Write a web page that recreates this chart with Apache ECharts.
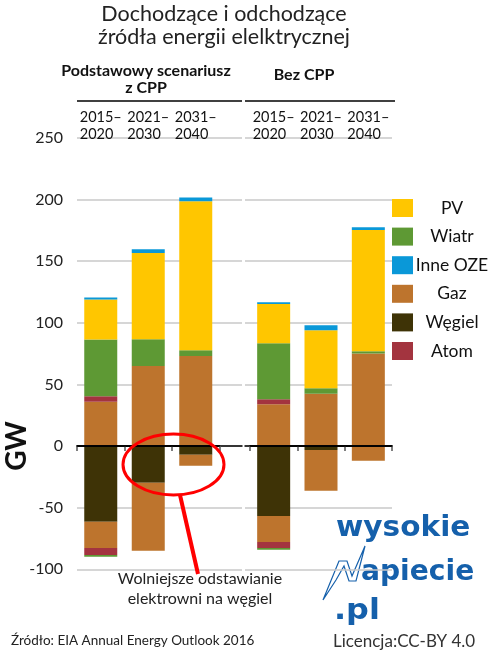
<!DOCTYPE html>
<html>
<head>
<meta charset="utf-8">
<script src="https://cdn.jsdelivr.net/npm/echarts@6/dist/echarts.min.js"></script>
<style>
html, body { margin: 0; padding: 0; background: #fff; }
#chart { width: 500px; height: 655px; }
</style>
</head>
<body>
<div id="chart"></div>
<script>
// okresy (kategorie)
var periods = ['2015–\n2020', '2021–\n2030', '2031–\n2040'];
var yTicks = { min: -100, max: 250, step: 50 };

// Podstawowy scenariusz z CPP - nowe moce (GW)
var cppAddGaz = [36, 65, 73];
var cppAddAtom = [4.5, 0, 0];
var cppAddWiatr = [46, 21.7, 4.7];
var cppAddPV = [32.5, 70, 121];
var cppAddInne = [1.6, 3, 3];
// Podstawowy scenariusz z CPP - odstawiane moce (GW)
var cppRetWegiel = [-61.4, -29.7, -7];
var cppRetGaz = [-21.3, -55.2, -9];
var cppRetAtom = [-5.7, 0, 0];
var cppRetWiatr = [-1.4, 0, 0];

// Bez CPP - nowe moce
var noAddGaz = [34, 42.4, 75.2];
var noAddAtom = [4, 0, 0];
var noAddWiatr = [45.4, 4.6, 1.8];
var noAddPV = [31.9, 47, 98.4];
var noAddInne = [1.4, 4.1, 2.2];
// Bez CPP - odstawiane moce
var noRetWegiel = [-56.8, -3.2, 0];
var noRetGaz = [-21.1, -33, -12];
var noRetAtom = [-4.8, 0, 0];
var noRetWiatr = [-1.4, 0, 0];

var legendNames = ['PV', 'Wiatr', 'Inne OZE', 'Gaz', 'Węgiel', 'Atom'];
var colors = {
    'PV': '#ffc600',
    'Wiatr': '#5e9934',
    'Inne OZE': '#0a98d8',
    'Gaz': '#bd742d',
    'Węgiel': '#3e3306',
    'Atom': '#a3343f'
};

var FONT = 'Lato, "Noto Sans", sans-serif';
var LOGO = '#1560ab';
var GRID_TOP = 138, GRID_H = 431.3;

function bar(name, data, xi, yi, stack) {
    return {
        name: name,
        type: 'bar',
        stack: stack,
        xAxisIndex: xi,
        yAxisIndex: yi,
        barWidth: 33,
        data: data,
        itemStyle: { color: colors[name] },
        emphasis: { disabled: true }
    };
}

// kolejnosc w stosie: ujemne od zera w dol, dodatnie od zera w gore
function panel(xi, yi, stack, add, ret) {
    var list = [
        bar('Węgiel', ret.wegiel, xi, yi, stack),
        bar('Gaz', add.gaz, xi, yi, stack),
        bar('Gaz', ret.gaz, xi, yi, stack),
        bar('Atom', add.atom, xi, yi, stack),
        bar('Atom', ret.atom, xi, yi, stack),
        bar('Wiatr', add.wiatr, xi, yi, stack),
        bar('Wiatr', ret.wiatr, xi, yi, stack),
        bar('PV', add.pv, xi, yi, stack),
        bar('Inne OZE', add.inne, xi, yi, stack)
    ];
    // linia zera nad slupkami
    list[list.length - 1].markLine = {
        silent: true, symbol: 'none', z: 6,
        label: { show: false },
        lineStyle: { color: '#000', width: 1.5, type: 'solid' },
        data: [{ yAxis: 0 }]
    };
    return list;
}

var series = [].concat(
    panel(1, 1, 'cpp',
        { gaz: cppAddGaz, atom: cppAddAtom, wiatr: cppAddWiatr, pv: cppAddPV, inne: cppAddInne },
        { wegiel: cppRetWegiel, gaz: cppRetGaz, atom: cppRetAtom, wiatr: cppRetWiatr }),
    panel(4, 3, 'bezcpp',
        { gaz: noAddGaz, atom: noAddAtom, wiatr: noAddWiatr, pv: noAddPV, inne: noAddInne },
        { wegiel: noRetWegiel, gaz: noRetGaz, atom: noRetAtom, wiatr: noRetWiatr })
);

function yAxis(grid, labels, lines) {
    return {
        type: 'value', gridIndex: grid,
        min: yTicks.min, max: yTicks.max, interval: yTicks.step,
        axisLine: { show: false }, axisTick: { show: false },
        axisLabel: { show: labels, margin: 14, fontSize: 16, fontFamily: FONT, color: '#222' },
        splitLine: { show: lines, lineStyle: { color: '#c8c8c8', width: 1.5 } }
    };
}

function zeroLine(grid) {
    return {
        type: 'value', gridIndex: grid, min: 0, max: 1, z: 5,
        axisLine: { show: true, onZero: true, lineStyle: { color: '#000', width: 1.5 } },
        axisTick: { show: false }, axisLabel: { show: false }, splitLine: { show: false }
    };
}

function catBottom(grid) {
    return {
        type: 'category', gridIndex: grid, data: periods, z: 5,
        axisLine: { show: true, onZero: true, lineStyle: { color: '#000', width: 1.5 } },
        axisTick: { show: true, length: 5, lineStyle: { color: '#555', width: 1.5 } },
        axisLabel: { show: false }
    };
}

function catTop(grid) {
    return {
        type: 'category', gridIndex: grid, data: periods, position: 'top',
        axisLine: { show: false, onZero: false }, axisTick: { show: false },
        axisLabel: {
            margin: -5, interval: 0,
            formatter: function (v) {
                return v.split('\n').map(function (s) { return '{a|' + s + '}'; }).join('\n');
            },
            rich: { a: { align: 'left', fontSize: 14.5, lineHeight: 17, fontFamily: FONT, color: '#111' } }
        }
    };
}

var chart = echarts.init(document.getElementById('chart'), null, { renderer: 'canvas' });

var option = {
    animation: false,
    backgroundColor: '#fff',
    title: {
        text: 'Dochodzące i odchodzące\nźródła energii elelktrycznej',
        left: 224, top: 3, padding: 0, textAlign: 'center',
        textStyle: { fontFamily: FONT, fontSize: 21.5, fontWeight: 'normal', color: '#222', lineHeight: 23 }
    },
    legend: {
        orient: 'vertical', left: 392, top: 199, padding: 0,
        itemWidth: 21, itemHeight: 18, itemGap: 10.6,
        icon: 'rect', selectedMode: false,
        data: legendNames,
        formatter: '{a|{name}}',
        textStyle: { rich: { a: { width: 68, align: 'center', fontSize: 17.5, fontFamily: FONT, color: '#111' } } }
    },
    grid: [
        { left: 77, top: GRID_TOP, width: 165, height: GRID_H },
        { left: 77, top: GRID_TOP, width: 142.5, height: GRID_H },
        { left: 245, top: GRID_TOP, width: 147, height: GRID_H },
        { left: 250, top: GRID_TOP, width: 142, height: GRID_H }
    ],
    xAxis: [zeroLine(0), catBottom(1), catTop(1), zeroLine(2), catBottom(3), catTop(3)],
    yAxis: [yAxis(0, true, true), yAxis(1, false, false), yAxis(2, false, true), yAxis(3, false, false)],
    series: series,
    graphic: [
        { type: 'text', x: 146, y: 62, style: { text: 'Podstawowy scenariusz\nz CPP', font: 'bold 16px ' + FONT, fill: '#111', textAlign: 'center', lineHeight: 17 } },
        { type: 'text', x: 304, y: 67, style: { text: 'Bez CPP', font: 'bold 16px ' + FONT, fill: '#111', textAlign: 'center' } },
        { type: 'line', shape: { x1: 77, y1: 101, x2: 242, y2: 101 }, style: { stroke: '#000', lineWidth: 1.5 } },
        { type: 'line', shape: { x1: 245, y1: 101, x2: 395, y2: 101 }, style: { stroke: '#000', lineWidth: 1.5 } },
        { type: 'text', x: 17, y: 446, rotation: Math.PI / 2, style: { text: 'GW', font: 'bold 28px ' + FONT, fill: '#111', textAlign: 'center', textVerticalAlign: 'middle' } },
        { type: 'ellipse', z: 100, shape: { cx: 173.5, cy: 464.5, rx: 50.5, ry: 30.5 }, style: { fill: 'none', stroke: '#ff0000', lineWidth: 3 } },
        { type: 'line', z: 100, shape: { x1: 180, y1: 495, x2: 198, y2: 574 }, style: { stroke: '#ff0000', lineWidth: 4 } },
        { type: 'text', x: 200, y: 589, style: { text: 'Wolniejsze odstawianie\nelektrowni na węgiel', font: '16px ' + FONT, fill: '#222', textAlign: 'center', textVerticalAlign: 'middle', lineHeight: 20 } },
        { type: 'text', x: 11, y: 641, style: { text: 'Źródło: EIA Annual Energy Outlook 2016', font: '13.5px ' + FONT, fill: '#222', textVerticalAlign: 'middle' } },
        { type: 'text', x: 333, y: 642, style: { text: 'Licencja:CC-BY 4.0', font: '17px ' + FONT, fill: '#333', textVerticalAlign: 'middle' } },
        { type: 'text', x: 336, y: 543, scaleX: 1.02, style: { text: 'wysokie', font: 'bold 29px "DejaVu Sans"', fill: LOGO, textVerticalAlign: 'bottom' } },
        { type: 'text', x: 361, y: 587, scaleX: 0.97, style: { text: 'apiecie', font: 'bold 29px "DejaVu Sans"', fill: LOGO, textVerticalAlign: 'bottom' } },
        { type: 'text', x: 334, y: 626, scaleX: 1.1, style: { text: '.pl', font: 'bold 29px "DejaVu Sans"', fill: LOGO, textVerticalAlign: 'bottom' } },
        { type: 'polygon', shape: { points: [[323, 600], [339, 561], [347, 561], [352, 576], [365, 546], [356, 581], [349, 581], [344, 566], [336, 580]] }, style: { fill: '#fff', stroke: LOGO, lineWidth: 1.2 } }
    ]
};

chart.setOption(option);
</script>
</body>
</html>
